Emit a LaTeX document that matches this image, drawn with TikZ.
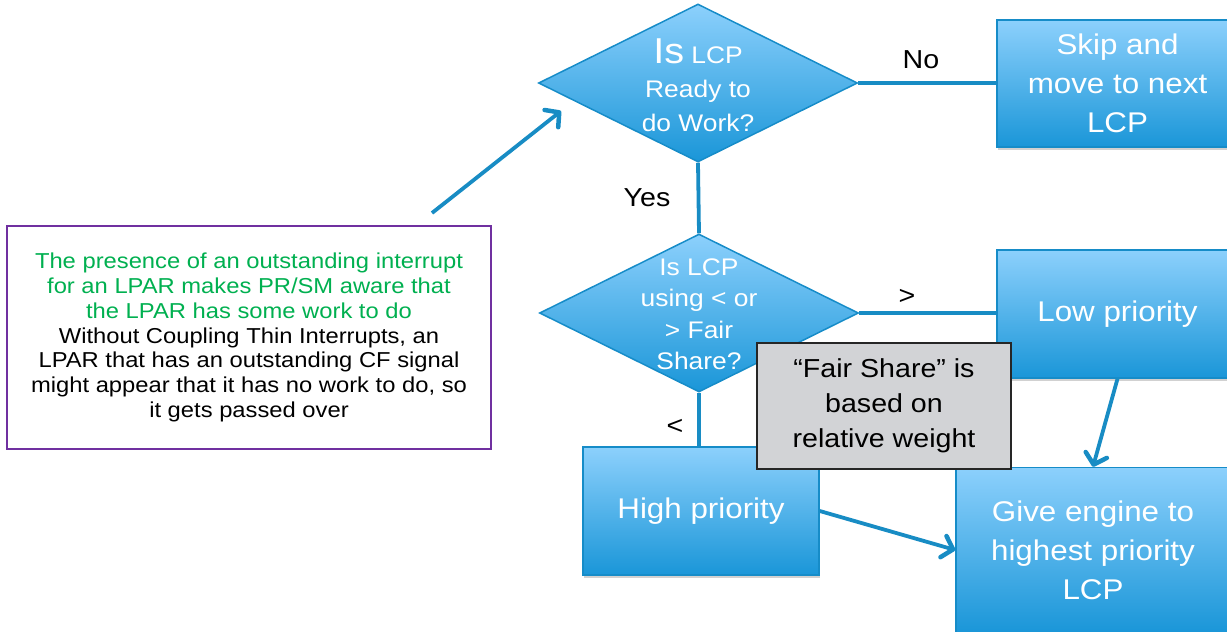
\documentclass[tikz,border=0pt]{standalone}
\usepackage{fontspec}
\setmainfont{Liberation Sans}[FakeStretch=1.1]
\usetikzlibrary{shapes.geometric,arrows.meta,shadows}
\definecolor{boxtop}{RGB}{140,208,252}
\definecolor{boxbot}{RGB}{26,150,216}
\definecolor{boxline}{RGB}{22,140,200}
\definecolor{conn}{RGB}{24,140,196}
\definecolor{notegreen}{RGB}{0,176,80}
\definecolor{notepurple}{RGB}{112,48,160}
\definecolor{fairgray}{RGB}{210,211,214}
\begin{document}
\begin{tikzpicture}[x=1pt,y=-1pt,
  softshadow/.style={drop shadow={shadow xshift=1pt,shadow yshift=-3pt,opacity=0.18,fill=black}},
  bluebox/.style={rectangle, draw=boxline, line width=1.5pt, top color=boxtop, bottom color=boxbot,
    text=white, align=center, inner sep=0pt, font=\fontsize{28.5}{39}\selectfont, softshadow},
  decision/.style={diamond, draw=boxline, line width=1.5pt, top color=boxtop, bottom color=boxbot,
    inner sep=0pt, minimum width=319pt, minimum height=158pt},
  dtext/.style={text=white, align=center, inner sep=0pt},
  conn/.style={draw=conn, line width=3.8pt},
  connarrow/.style={conn, -{Straight Barb[length=10pt,width=22pt,line width=4.5pt,round]}},
  lbl/.style={text=black, inner sep=0pt, font=\fontsize{26}{30}\selectfont},
  fairbox/.style={rectangle, draw={black!85}, line width=1.5pt, fill=fairgray, align=center,
    inner sep=0pt, font=\fontsize{26}{35}\selectfont},
  notebox/.style={rectangle, draw=notepurple, line width=1.5pt, fill=white, align=center,
    inner sep=0pt, text=black, font=\fontsize{21.6}{24.8}\selectfont}
]
\useasboundingbox (0,0) rectangle (1227,632);
\clip (0,0) rectangle (1227,632);

% diamonds
\node[decision] (d1) at (698,83) {};
\node[dtext, font=\fontsize{24}{34}\selectfont] (t1) at (698,85)
  {{\fontsize{36}{36}\selectfont Is} LCP\\Ready to\\do Work?};
\node[decision] (d2) at (699,313) {};
\node[dtext, font=\fontsize{24}{31.5}\selectfont] (t2) at (699,314)
  {Is LCP\\using < or\\> Fair\\Share?};

% boxes
\node[bluebox, minimum width=241pt, minimum height=127pt] (skip) at (1117.5,83.5)
  {Skip and\\move to next\\LCP};
\node[bluebox, minimum width=241pt, minimum height=128pt] (low) at (1117.5,314)
  {Low priority};
\node[bluebox, minimum width=236pt, minimum height=128pt] (high) at (701,511)
  {High priority};
\node[bluebox, minimum width=274pt, minimum height=165pt] (give) at (1093,550)
  {Give engine to\\highest priority\\LCP};

% connectors
\draw[conn] (d1.east) -- (skip.west |- d1.east);
\draw[conn] (d1.south) -- (d2.north);
\draw[conn] (d2.east) -- (low.west |- d2.east);
\draw[conn] (d2.south) -- (d2.south |- high.north);
\draw[connarrow] (low.south) -- (give.north);
\draw[connarrow] (high.east) -- (give.west);

% labels
\node[lbl] (no) at (921,60) {No};
\node[lbl] (yes) at (647,198) {Yes};
\node[lbl] (gt) at (907,297) {>};
\node[lbl] (lt) at (675,427) {<};

% fair share note
\node[fairbox, minimum width=254pt, minimum height=126pt] (fair) at (884,406)
  {“Fair Share” is\\based on\\relative weight};

% left note
\node[notebox, minimum width=484pt, minimum height=223pt] (note) at (249,337.5)
  {\color{notegreen}The presence of an outstanding interrupt\\
   \color{notegreen}for an LPAR makes PR/SM aware that\\
   \color{notegreen}the LPAR has some work to do\\
   Without Coupling Thin Interrupts, an\\LPAR that has an outstanding CF signal\\might appear that it has no work to do, so\\it gets passed over};

\coordinate (ns) at (432,213);
\coordinate (ne) at (561,111);
\draw[connarrow] (ns) -- (ne);
\end{tikzpicture}
\end{document}
